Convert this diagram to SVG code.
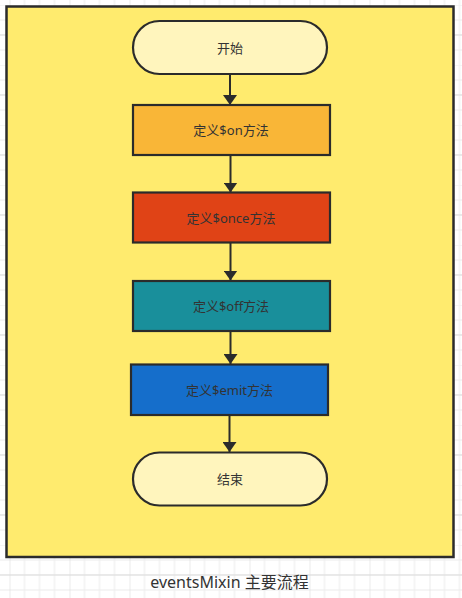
<svg xmlns="http://www.w3.org/2000/svg" width="462" height="598" viewBox="0 0 462 598">
  <defs>
    <pattern id="grid" x="9.5" y="5" width="60" height="60" patternUnits="userSpaceOnUse">
      <path d="M0 0V60M15 0V60M30 0V60M45 0V60M0 0H60M0 15H60M0 30H60M0 45H60" fill="none" stroke="#ebebeb" stroke-width="1"/>
      <path d="M0 0V60M0 30H60" fill="none" stroke="#dedede" stroke-width="1"/>
    </pattern>
    <marker id="arrow" viewBox="0 0 10 14" refX="10" refY="7" markerWidth="10" markerHeight="14" markerUnits="userSpaceOnUse" orient="auto">
      <path d="M0 0L10 7L0 14Z" fill="#2b2b2b"/>
    </marker>
  </defs>
  <style>
    .node { stroke: #2b2b2b; stroke-width: 2.2; }
    .label { font-family: "Noto Sans", "Noto Sans CJK SC", sans-serif; font-size: 13px; fill: #333333; text-anchor: middle; dominant-baseline: central; }
    .edge { stroke: #2b2b2b; stroke-width: 2; fill: none; marker-end: url(#arrow); }
    .title { font-family: "Noto Sans", "Noto Sans CJK SC", sans-serif; font-size: 16px; fill: #333333; text-anchor: middle; }
  </style>
  <rect width="462" height="598" fill="#ffffff"/>
  <rect width="462" height="598" fill="url(#grid)"/>

  <g id="frame">
    <rect x="6.5" y="6.5" width="447" height="550.5" fill="#ffeb6e" stroke="#2b2b2b" stroke-width="2.5"/>
  </g>

  <g id="connectors">
    <line class="edge" x1="230" y1="74" x2="230" y2="105"/>
    <line class="edge" x1="230.5" y1="155" x2="230.5" y2="192.5"/>
    <line class="edge" x1="230.5" y1="242.5" x2="230.5" y2="280.5"/>
    <line class="edge" x1="230.5" y1="331" x2="230.5" y2="364"/>
    <line class="edge" x1="229.5" y1="415" x2="229.5" y2="452"/>
  </g>

  <g id="start">
    <rect class="node" x="133" y="21" width="194" height="53" rx="26.5" fill="#fff5bd"/>
    <text class="label" x="230" y="47.5">开始</text>
  </g>

  <g id="on">
    <rect class="node" x="133" y="105" width="197" height="50" fill="#f9b637"/>
    <text class="label" x="231" y="130">定义$on方法</text>
  </g>

  <g id="once">
    <rect class="node" x="133" y="192.5" width="197" height="50" fill="#e04316"/>
    <text class="label" x="231" y="218">定义$once方法</text>
  </g>

  <g id="off">
    <rect class="node" x="133" y="281" width="197" height="50" fill="#198f9b"/>
    <text class="label" x="231" y="306">定义$off方法</text>
  </g>

  <g id="emit">
    <rect class="node" x="131" y="364.5" width="197" height="50.5" fill="#156ecb"/>
    <text class="label" x="229.5" y="390">定义$emit方法</text>
  </g>

  <g id="end">
    <rect class="node" x="133" y="452.5" width="194" height="53" rx="26.5" fill="#fff5bd"/>
    <text class="label" x="230" y="479">结束</text>
  </g>

  <text class="title" x="229.5" y="588">eventsMixin 主要流程</text>
</svg>
